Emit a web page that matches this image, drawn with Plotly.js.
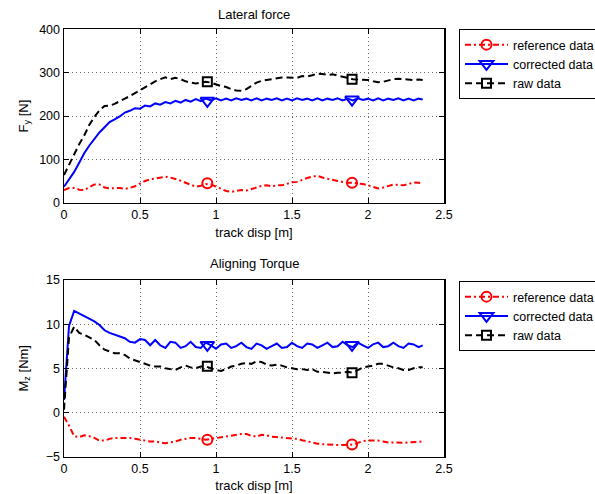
<!DOCTYPE html>
<html>
<head>
<meta charset="utf-8">
<script src="https://cdn.plot.ly/plotly-3.0.1.min.js"></script>
<style>html,body{margin:0;padding:0;background:#fff;}#chart{width:595px;height:494px;}</style>
</head>
<body>
<div id="chart"></div>
<script>
// track displacement [m]
const trackDisp = [0,0.033,0.067,0.1,0.133,0.167,0.2,0.233,0.267,0.3,0.333,0.367,0.4,0.433,0.467,0.5,0.533,0.567,0.6,0.633,0.667,0.7,0.733,0.767,0.8,0.833,0.867,0.9,0.933,0.967,1.0,1.033,1.067,1.1,1.133,1.167,1.2,1.233,1.267,1.3,1.333,1.367,1.4,1.433,1.467,1.5,1.533,1.567,1.6,1.633,1.667,1.7,1.733,1.767,1.8,1.833,1.867,1.9,1.933,1.967,2.0,2.033,2.067,2.1,2.133,2.167,2.2,2.233,2.267,2.3,2.333,2.36];

// Lateral force Fy [N]
const fyReference = [29,34,34,30,29,36,42,42,35,33,34,34,32,34,38,44,50,54,56,58,60,58,55,51,46,41,37,39,43,42,37,32,27,25,27,29,28,31,35,39,40,38,40,40,44,47,48,53,57,60,62,58,55,53,50,48,46,46,45,43,40,36,33,35,39,42,41,40,43,47,46,45];
const fyCorrected = [37,54,71,92,114,132,148,162,174,186,192,199,208,212,218,217,224,222,229,226,232,229,235,231,237,233,239,234,240,236,241,236,240,236,241,237,240,236,241,236,240,237,241,236,240,236,241,237,240,236,241,236,240,237,241,236,240,236,241,237,240,236,241,236,240,237,241,236,240,236,240,238];
const fyRaw = [64,88,113,135,155,180,198,213,223,224,228,235,240,246,253,260,267,274,280,285,289,285,288,285,280,277,275,277,279,277,273,269,267,262,259,258,262,270,277,281,283,284,287,289,289,289,288,292,291,294,298,297,295,296,293,290,287,285,284,284,283,280,278,279,282,285,286,285,283,283,284,283];

// Aligning torque Mz [Nm]
const mzReference = [-0.5,-1.5,-2.7,-2.8,-2.6,-2.7,-2.9,-3.2,-3.2,-3.0,-2.9,-2.9,-2.9,-2.9,-3.0,-3.1,-3.2,-3.3,-3.3,-3.4,-3.5,-3.4,-3.3,-3.1,-3.0,-2.9,-2.9,-3.0,-3.1,-3.0,-2.9,-2.85,-2.7,-2.6,-2.55,-2.45,-2.45,-2.65,-2.75,-2.55,-2.6,-2.75,-2.8,-2.85,-2.9,-2.95,-3.0,-3.15,-3.3,-3.4,-3.55,-3.6,-3.65,-3.7,-3.7,-3.7,-3.7,-3.65,-3.45,-3.25,-3.2,-3.2,-3.2,-3.3,-3.4,-3.4,-3.45,-3.45,-3.4,-3.35,-3.3,-3.3];
const mzCorrected = [1.4,9.8,11.5,11.2,10.9,10.6,10.3,9.9,9.3,9.0,8.8,8.6,8.4,8.0,7.9,8.3,8.2,7.6,8.2,7.6,7.3,8.0,7.9,7.3,7.5,8.0,7.4,7.3,7.9,7.6,7.2,7.7,7.8,7.3,7.5,7.9,7.4,7.2,7.8,7.6,7.2,7.5,7.8,7.3,7.4,7.9,7.5,7.3,7.8,7.7,7.3,7.6,7.9,7.4,7.5,8.0,7.6,7.4,7.9,7.6,7.3,7.7,7.9,7.4,7.5,7.9,7.5,7.3,7.8,7.7,7.4,7.6];
const mzRaw = [0.3,8.5,9.7,9.0,8.8,8.5,8.2,7.6,7.1,6.9,6.7,6.7,6.5,6.1,5.9,5.7,5.5,5.3,5.2,5.2,5.0,4.9,4.8,5.1,5.3,5.1,5.0,5.2,5.2,5.0,4.8,4.7,4.9,5.2,5.3,5.5,5.6,5.5,5.8,5.7,5.4,5.3,5.4,5.3,5.1,5.0,4.9,4.9,4.8,4.9,4.6,4.6,4.5,4.4,4.5,4.5,4.6,4.5,4.8,5.1,5.2,5.3,5.5,5.5,5.3,5.1,5.0,4.8,4.8,5.0,5.1,5.1];

// marker positions
const markerDisp = [0.943, 1.895];
const fyReferenceMarks = [45, 46];
const fyCorrectedMarks = [235, 238];
const fyRawMarks = [279, 285];
const mzReferenceMarks = [-3.1, -3.65];
const mzCorrectedMarks = [7.64, 7.64];
const mzRawMarks = [5.24, 4.5];

const seriesNames = ['reference data', 'corrected data', 'raw data'];
const xTicks = [0, 0.5, 1, 1.5, 2, 2.5];

const styles = [
  {color: '#ff0000', dash: '6px,3px,2px,3px', symbol: 'circle-open', size: 10},
  {color: '#0000ff', dash: 'solid', symbol: 'triangle-down-open', size: 12},
  {color: '#000000', dash: '7px,4px', symbol: 'square-open', size: 9}
];

function lineTrace(y, st, xa, ya) {
  return {x: trackDisp, y: y, xaxis: xa, yaxis: ya, mode: 'lines', type: 'scatter',
    line: {color: st.color, width: 2, dash: st.dash}, showlegend: false, hoverinfo: 'skip'};
}
function markTrace(ym, name, st, xa, ya, legend) {
  return {x: [markerDisp[0], null, markerDisp[1]], y: [ym[0], null, ym[1]], xaxis: xa, yaxis: ya,
    mode: 'lines+markers', type: 'scatter', name: name, legend: legend, connectgaps: false,
    line: {color: st.color, width: 2, dash: st.dash},
    marker: {symbol: st.symbol, size: st.size, color: st.color, line: {color: st.color, width: 2}},
    hoverinfo: 'skip'};
}

const fyData = [fyReference, fyCorrected, fyRaw];
const fyMarks = [fyReferenceMarks, fyCorrectedMarks, fyRawMarks];
const mzData = [mzReference, mzCorrected, mzRaw];
const mzMarks = [mzReferenceMarks, mzCorrectedMarks, mzRawMarks];

const traces = [];
for (let i = 0; i < 3; i++) traces.push(lineTrace(fyData[i], styles[i], 'x', 'y'));
for (let i = 0; i < 3; i++) traces.push(lineTrace(mzData[i], styles[i], 'x2', 'y2'));
for (let i = 0; i < 3; i++) traces.push(markTrace(fyMarks[i], seriesNames[i], styles[i], 'x', 'y', 'legend'));
for (let i = 0; i < 3; i++) traces.push(markTrace(mzMarks[i], seriesNames[i], styles[i], 'x2', 'y2', 'legend2'));

const FONT = 'Liberation Sans, Arial, Helvetica, sans-serif';
const axisCommon = {
  showline: true, mirror: 'ticks', linecolor: '#000', linewidth: 1.5,
  ticks: 'inside', ticklen: 5, tickcolor: '#000', tickwidth: 1,
  showgrid: true, gridcolor: '#6a6a6a', griddash: '1px,3px', gridwidth: 1,
  zeroline: false, tickfont: {family: FONT, size: 12.5, color: '#000'}
};
const xDomain = [64 / 595, 444 / 595];

const legendCommon = {
  x: 459 / 595, xanchor: 'left', yanchor: 'top',
  bgcolor: '#ffffff', bordercolor: '#000', borderwidth: 1,
  font: {family: FONT, size: 12.5, color: '#000'},
  itemwidth: 43, traceorder: 'normal'
};

const layout = {
  width: 595, height: 494,
  margin: {l: 0, r: 0, t: 0, b: 0, autoexpand: false},
  paper_bgcolor: '#fff', plot_bgcolor: '#fff',
  font: {family: FONT, size: 12.5, color: '#000'},
  xaxis: Object.assign({}, axisCommon, {domain: xDomain, anchor: 'y', range: [0, 2.5], tickvals: xTicks,
    title: {text: 'track disp [m]', font: {family: FONT, size: 13}, standoff: 6}}),
  yaxis: Object.assign({}, axisCommon, {domain: [1 - 202.7 / 494, 1 - 29.3 / 494], anchor: 'x', range: [0, 400], dtick: 100,
    title: {text: 'F<sub>y</sub> [N]', font: {family: FONT, size: 13}}}),
  xaxis2: Object.assign({}, axisCommon, {domain: xDomain, anchor: 'y2', range: [0, 2.5], tickvals: xTicks,
    title: {text: 'track disp [m]', font: {family: FONT, size: 13}, standoff: 6}}),
  yaxis2: Object.assign({}, axisCommon, {domain: [1 - 456.5 / 494, 1 - 280 / 494], anchor: 'x2', range: [-5, 15], dtick: 5,
    title: {text: 'M<sub>z</sub> [Nm]', font: {family: FONT, size: 13}}}),
  legend: Object.assign({}, legendCommon, {y: 1 - 29 / 494}),
  legend2: Object.assign({}, legendCommon, {y: 1 - 281 / 494}),
  annotations: [
    {text: 'Lateral force', xref: 'paper', yref: 'paper', x: 254 / 595, y: 1 - 14.5 / 494,
      xanchor: 'center', yanchor: 'middle', showarrow: false, font: {family: FONT, size: 13, color: '#000'}},
    {text: 'Aligning Torque', xref: 'paper', yref: 'paper', x: 254 / 595, y: 1 - 263 / 494,
      xanchor: 'center', yanchor: 'middle', showarrow: false, font: {family: FONT, size: 13, color: '#000'}}
  ],
  showlegend: true
};

Plotly.newPlot('chart', traces, layout, {staticPlot: true, displayModeBar: false});
</script>
</body>
</html>
